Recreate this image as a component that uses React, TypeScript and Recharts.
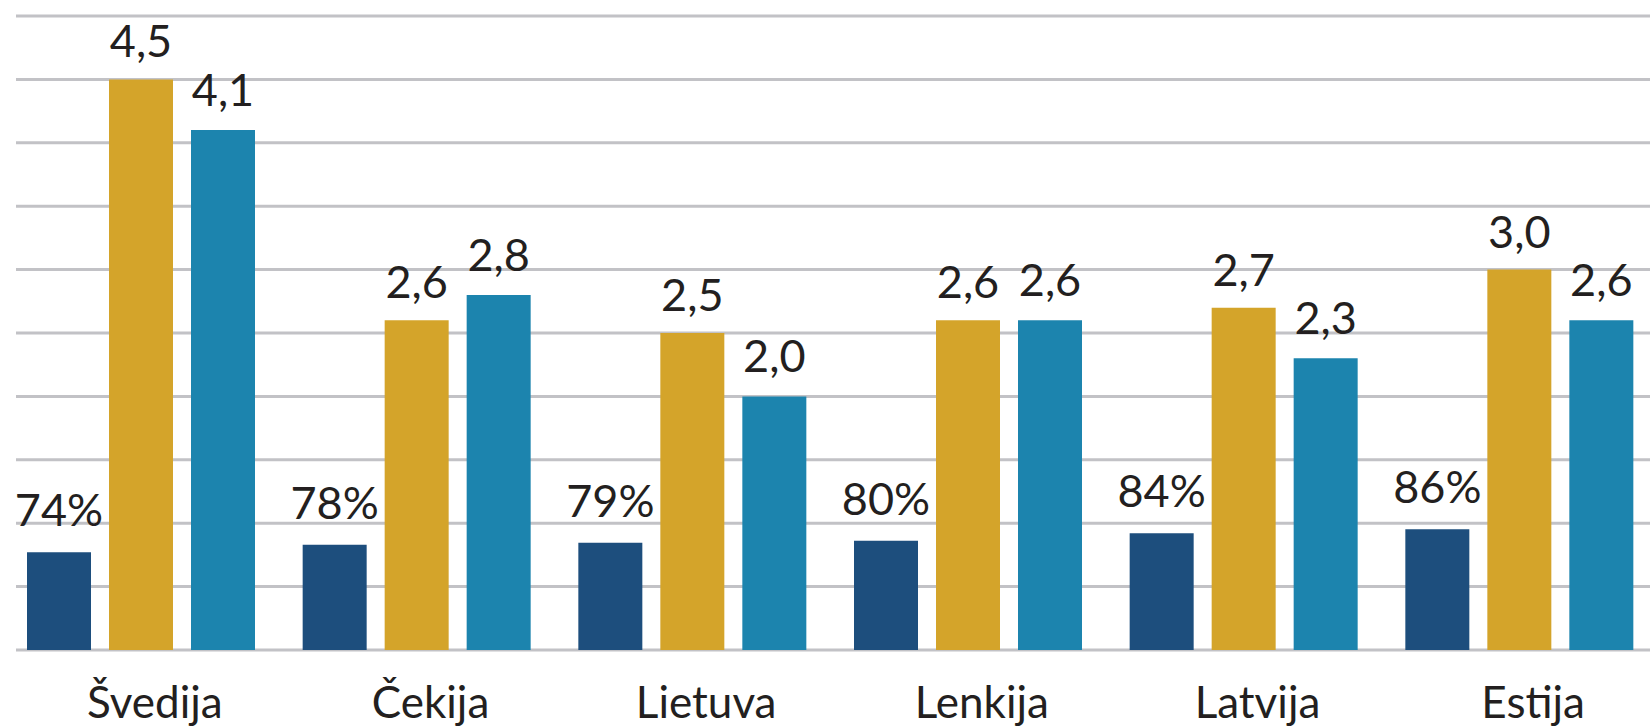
import { BarChart, Bar, XAxis, YAxis, CartesianGrid, LabelList } from "recharts";

// ── Data ──────────────────────────────────────────────────────────
const countries = ["Švedija", "Čekija", "Lietuva", "Lenkija", "Latvija", "Estija"];
const shares = [74, 78, 79, 80, 84, 86];          // dark blue, %
const goldValues = [4.5, 2.6, 2.5, 2.6, 2.7, 3.0];
const tealValues = [4.1, 2.8, 2.0, 2.6, 2.3, 2.6];
const valueTicks = [0, 0.5, 1, 1.5, 2, 2.5, 3, 3.5, 4, 4.5, 5];

const data = countries.map((name, i) => ({
  name,
  share: shares[i],
  gold: goldValues[i],
  teal: tealValues[i],
}));

// ── Styles ────────────────────────────────────────────────────────
const FONT = "Lato";
const TEXT = "#231f20";
const DARK = "#1d4e7d";
const GOLD = "#d4a42a";
const TEAL = "#1c84ae";
const GRID = "#c2c2c6";

const comma = (v: number) => v.toFixed(1).replace(".", ",");

const CountryTick = ({ x, y, payload }: any) => (
  <text x={x + 14} y={y} dy="0.71em" textAnchor="middle" fill={TEXT} fontSize={44} fontFamily={FONT}>
    {payload.value}
  </text>
);

// value axis is only there to drive the grid lines
const NoTick = () => <g />;

const labelStyle = { fill: TEXT, fontSize: 45, fontFamily: FONT };

export default function App() {
  return (
    <div style={{ position: "absolute", left: 0, top: 0, background: "#fff" }}>
      <BarChart
        width={1650}
        height={726}
        data={data}
        margin={{ top: 16, right: 0, bottom: 0, left: 16 }}
        barSize={64}
        barGap={18}
      >
        <CartesianGrid vertical={false} stroke={GRID} strokeWidth={3} />
        <XAxis
          dataKey="name"
          height={76}
          padding={{ left: -13, right: -7 }}
          axisLine={false}
          tickLine={false}
          tickSize={0}
          tickMargin={37}
          interval={0}
          tick={<CountryTick />}
        />
        <YAxis domain={[0, 5]} ticks={valueTicks} width={0} axisLine={false} tickLine={false} tick={<NoTick />} />
        <YAxis yAxisId="pct" domain={[23, 354]} hide />
        <Bar yAxisId="pct" dataKey="share" fill={DARK} isAnimationActive={false}>
          <LabelList dataKey="share" position="top" offset={26} formatter={(v: any) => `${v}%`} style={labelStyle} />
        </Bar>
        <Bar dataKey="gold" fill={GOLD} isAnimationActive={false}>
          <LabelList dataKey="gold" position="top" offset={22} formatter={(v: any) => comma(v)} style={labelStyle} />
        </Bar>
        <Bar dataKey="teal" fill={TEAL} isAnimationActive={false}>
          <LabelList dataKey="teal" position="top" offset={24} formatter={(v: any) => comma(v)} style={labelStyle} />
        </Bar>
      </BarChart>
    </div>
  );
}
